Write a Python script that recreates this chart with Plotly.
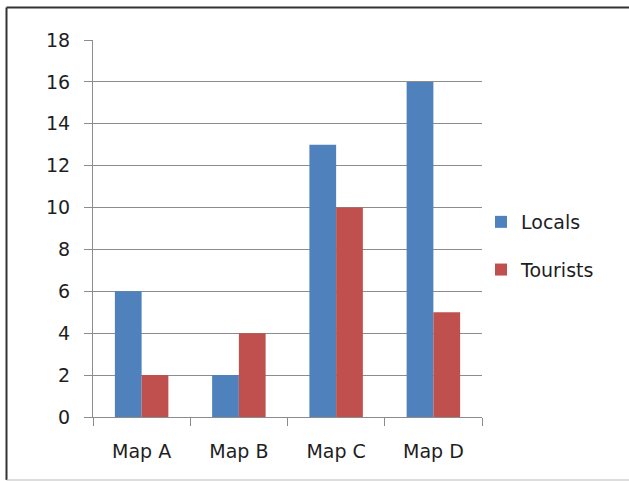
import plotly.graph_objects as go

# Survey results per map
categories = ["Map A", "Map B", "Map C", "Map D"]
locals_counts = [6, 2, 13, 16]
tourists_counts = [2, 4, 10, 5]
y_ticks = list(range(0, 20, 2))

W, H = 629, 481
L, R, T, B = 93, 482, 40, 417  # plot area in pixels

def px_x(x):
    return (x - L) / (R - L)

def px_y(y):
    return (B - y) / (B - T)

FONT = "DejaVu Sans"
TXT = "#1E1E1E"
fig = go.Figure()
fig.add_trace(go.Bar(x=categories, y=locals_counts, name="Locals",
                     marker=dict(color="#4F81BD", line=dict(width=0)),
                     legendgroup="a"))
fig.add_trace(go.Bar(x=categories, y=tourists_counts, name="Tourists",
                     marker=dict(color="#C0504D", line=dict(width=0)),
                     legendgroup="b"))

grid = "#8C8C8C"
fig.update_layout(
    width=W, height=H,
    margin=dict(l=L, r=W - R, t=T, b=H - B, pad=0),
    paper_bgcolor="white", plot_bgcolor="white",
    barmode="group", bargap=0.45, bargroupgap=0,
    font=dict(family=FONT, size=18, color=TXT),
    showlegend=True,
    legend=dict(x=px_x(481), y=px_y(203), xanchor="left", yanchor="top",
                font=dict(family=FONT, size=19, color=TXT),
                tracegroupgap=20, itemwidth=30, bgcolor="rgba(0,0,0,0)"),
    xaxis=dict(showline=True, linecolor=grid, linewidth=1,
               ticks="outside", tickson="boundaries", ticklen=8, tickcolor=grid,
               showgrid=False, ticklabelstandoff=17, range=[-0.5, 3.5],
               tickfont=dict(family=FONT, size=19, color=TXT)),
    yaxis=dict(range=[0, 18], tickvals=y_ticks, showline=True, linecolor=grid,
               linewidth=1, ticks="outside", ticklen=8, tickcolor=grid,
               showgrid=True, gridcolor=grid, gridwidth=1, zeroline=False,
               ticklabelstandoff=10,
               tickfont=dict(family=FONT, size=19, color=TXT)),
    shapes=[
        dict(type="line", xref="paper", yref="paper", x0=px_x(6.5), x1=px_x(640),
             y0=px_y(7.5), y1=px_y(7.5), line=dict(color="#333333", width=2)),
        dict(type="line", xref="paper", yref="paper", x0=px_x(6.5), x1=px_x(6.5),
             y0=px_y(7.5), y1=px_y(480), line=dict(color="#333333", width=2)),
        dict(type="line", xref="paper", yref="paper", x0=px_x(6.5), x1=px_x(640),
             y0=px_y(480), y1=px_y(480), line=dict(color="#BBBBBB", width=1)),
    ],
)

fig.write_html("out.html")
